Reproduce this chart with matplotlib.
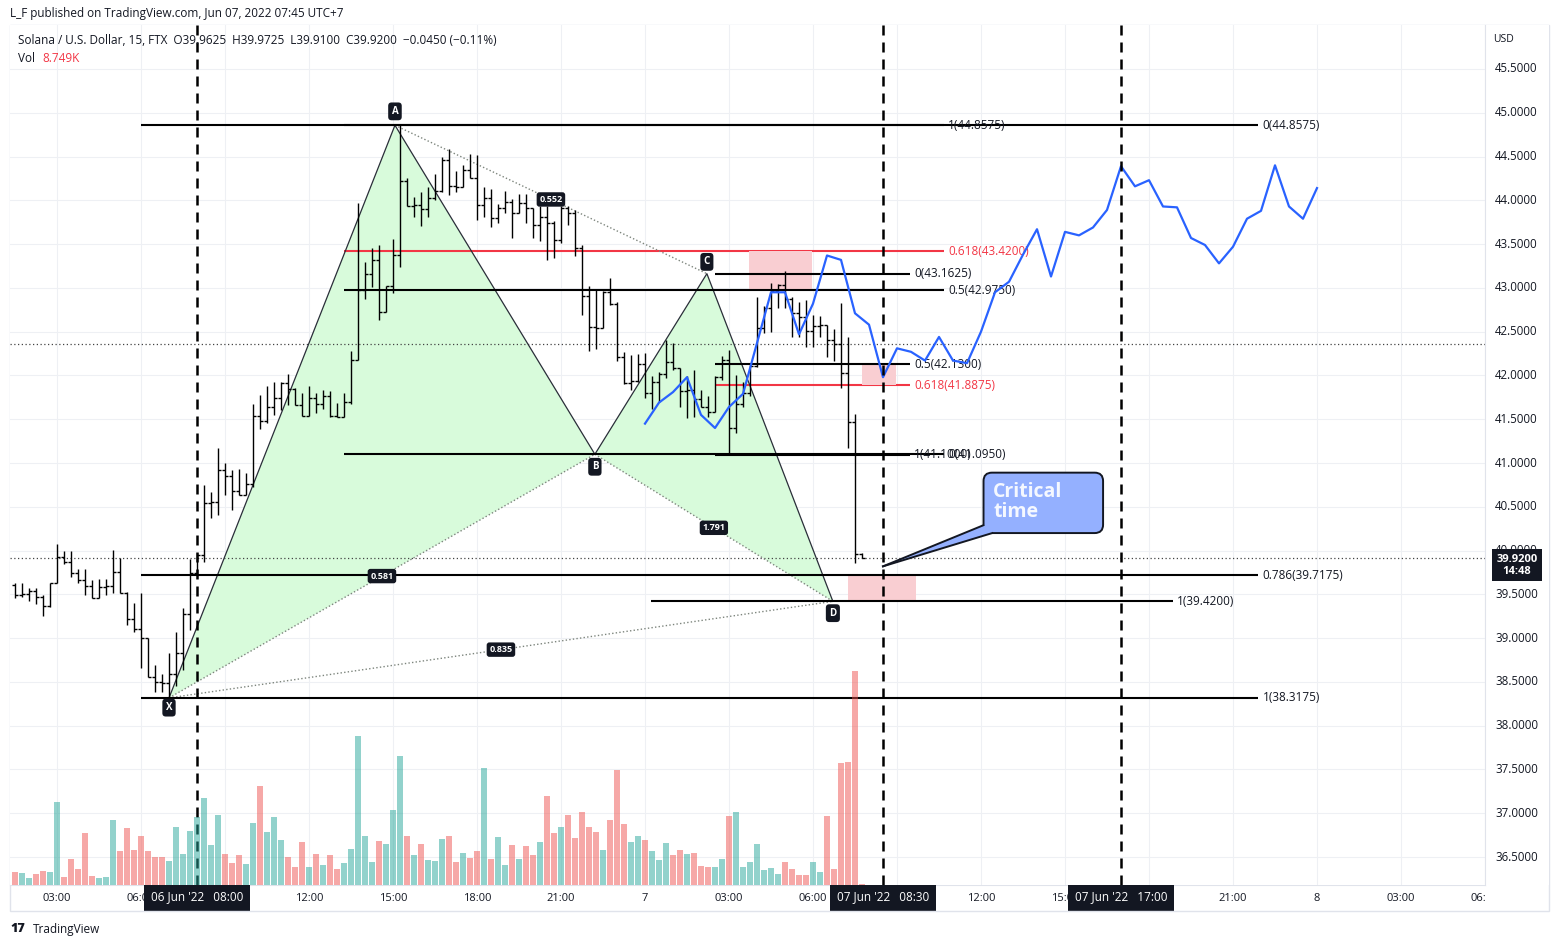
import numpy as np
import matplotlib.pyplot as plt
from matplotlib.patches import Polygon, Rectangle, FancyBboxPatch
from matplotlib.transforms import Bbox

plt.rcParams.update({'font.size': 8})
plt.rcParams['font.family'] = ['Open Sans', 'DejaVu Sans']

W, H = 1559, 947

# 15 minute OHLC bars, SOL/USD, first bar 06 Jun 01:30 (hours since 06 Jun 00:00)
first_bar = 1.5
opens = [
    39.61, 39.49, 39.50, 39.54, 39.47, 39.37, 39.63, 39.93, 39.87, 39.74,
    39.66, 39.60, 39.46, 39.58, 39.60, 39.75, 39.52, 39.22, 39.11, 39.00,
    38.56, 38.50, 38.49, 38.59, 38.83, 39.28, 39.74, 39.95, 40.54, 40.55,
    40.92, 40.85, 40.68, 40.63, 40.76, 41.54, 41.48, 41.64, 41.74, 41.91,
    41.85, 41.66, 41.54, 41.74, 41.67, 41.76, 41.54, 41.53, 41.70, 42.18,
    42.98, 43.16, 43.32, 42.72, 43.02, 43.38, 44.22, 43.94, 43.95, 43.90,
    44.03, 44.11, 44.46, 44.16, 44.15, 44.35, 44.26, 43.95, 44.03, 43.80,
    43.91, 43.98, 43.85, 43.97, 43.91, 43.72, 43.81, 43.74, 43.55, 43.91,
    43.85, 43.45, 42.91, 42.55, 42.54, 42.95, 42.82, 42.21, 41.91, 41.94,
    42.13, 41.80, 41.93, 42.02, 42.15, 42.09, 41.82, 41.83, 41.73, 41.64,
    41.58, 41.98, 42.18, 41.40, 41.67, 41.80, 42.11, 42.54, 42.77, 42.96,
    43.03, 42.87, 42.71, 42.67, 42.51, 42.56, 42.58, 42.41, 42.36, 42.03,
    41.47, 39.9625]
highs = [
    39.63, 39.63, 39.57, 39.57, 39.49, 39.63, 40.08, 40.00, 39.99, 39.79,
    39.79, 39.66, 39.68, 39.68, 40.01, 39.91, 39.53, 39.40, 39.51, 39.00,
    38.69, 38.59, 38.83, 39.07, 39.34, 39.90, 39.97, 40.75, 40.67, 41.17,
    41.00, 40.92, 40.93, 40.89, 41.67, 41.78, 41.88, 41.93, 41.93, 42.02,
    41.86, 41.80, 41.88, 41.80, 41.83, 41.82, 41.69, 41.80, 42.28, 43.97,
    43.30, 43.45, 43.49, 43.02, 43.56, 44.8575, 44.26, 44.04, 44.09, 44.15,
    44.30, 44.50, 44.59, 44.34, 44.40, 44.53, 44.52, 44.15, 44.13, 43.96,
    44.11, 44.01, 44.07, 44.07, 43.91, 43.93, 43.93, 43.76, 43.93, 43.93,
    43.89, 43.49, 43.02, 42.98, 42.96, 43.11, 42.84, 42.27, 42.23, 42.25,
    42.26, 41.99, 42.04, 42.41, 42.37, 42.09, 41.99, 42.06, 41.83, 41.76,
    41.99, 42.22, 42.29, 42.01, 41.92, 42.12, 42.90, 42.79, 43.06, 43.05,
    43.19, 42.90, 42.84, 42.86, 42.69, 42.68, 42.58, 42.53, 42.83, 42.44,
    41.56, 39.9725]
lows = [
    39.46, 39.47, 39.42, 39.39, 39.25, 39.35, 39.63, 39.85, 39.70, 39.63,
    39.49, 39.46, 39.46, 39.49, 39.51, 39.51, 39.15, 39.07, 38.66, 38.56,
    38.39, 38.38, 38.3175, 38.45, 38.64, 39.09, 39.72, 39.87, 40.37, 40.41,
    40.63, 40.46, 40.63, 40.63, 40.73, 41.39, 41.46, 41.55, 41.61, 41.66,
    41.66, 41.54, 41.54, 41.57, 41.62, 41.52, 41.52, 41.52, 41.67, 42.18,
    42.87, 43.01, 42.63, 42.72, 42.94, 43.24, 43.93, 43.81, 43.71, 43.81,
    44.00, 44.10, 44.06, 44.10, 44.15, 44.26, 43.78, 43.81, 43.69, 43.74,
    43.85, 43.57, 43.85, 43.74, 43.57, 43.53, 43.32, 43.34, 43.51, 43.72,
    43.36, 42.69, 42.28, 42.30, 42.54, 42.80, 42.17, 41.90, 41.83, 41.93,
    41.74, 41.62, 41.70, 41.97, 42.06, 41.64, 41.51, 41.53, 41.64, 41.53,
    41.58, 41.95, 41.095, 41.34, 41.64, 41.76, 42.10, 42.49, 42.50, 42.77,
    42.77, 42.44, 42.44, 42.33, 42.33, 42.44, 42.21, 42.17, 41.86, 41.17,
    39.86, 39.91]
closes = [
    39.49, 39.50, 39.54, 39.47, 39.37, 39.63, 39.93, 39.87, 39.74, 39.66,
    39.60, 39.46, 39.58, 39.60, 39.75, 39.52, 39.22, 39.11, 39.00, 38.56,
    38.50, 38.49, 38.59, 38.83, 39.28, 39.74, 39.95, 40.54, 40.55, 40.92,
    40.85, 40.68, 40.63, 40.76, 41.54, 41.48, 41.64, 41.74, 41.91, 41.85,
    41.66, 41.54, 41.74, 41.67, 41.76, 41.54, 41.53, 41.70, 42.18, 42.98,
    43.16, 43.32, 42.72, 43.02, 43.38, 44.22, 43.94, 43.95, 43.90, 44.03,
    44.11, 44.46, 44.16, 44.15, 44.35, 44.26, 43.95, 44.03, 43.80, 43.91,
    43.98, 43.85, 43.97, 43.91, 43.72, 43.81, 43.74, 43.55, 43.91, 43.85,
    43.45, 42.91, 42.55, 42.54, 42.95, 42.82, 42.21, 41.91, 41.94, 42.13,
    41.80, 41.93, 42.02, 42.15, 42.09, 41.82, 41.83, 41.73, 41.64, 41.58,
    41.98, 42.18, 41.40, 41.67, 41.80, 42.11, 42.54, 42.77, 42.96, 43.03,
    42.87, 42.71, 42.67, 42.51, 42.56, 42.58, 42.41, 42.36, 42.03, 41.47,
    39.9625, 39.92]
volume_k = [
    117, 108, 63, 99, 126, 117, 747, 72, 234, 144,
    468, 81, 63, 72, 585, 306, 513, 315, 441, 306,
    252, 252, 216, 522, 279, 486, 612, 783, 360, 630,
    279, 198, 270, 189, 558, 891, 477, 612, 405, 252,
    162, 387, 162, 279, 180, 270, 144, 198, 324, 1341,
    441, 207, 396, 369, 675, 1161, 441, 270, 369, 225,
    216, 414, 441, 207, 288, 243, 306, 1053, 234, 432,
    180, 360, 234, 351, 270, 387, 801, 468, 522, 630,
    423, 657, 522, 477, 315, 585, 1035, 549, 387, 441,
    405, 306, 225, 378, 270, 315, 279, 288, 171, 162,
    162, 234, 621, 657, 162, 207, 369, 135, 153, 99,
    207, 144, 90, 90, 207, 117, 621, 144, 1098, 1107,
    1926, 8.749]

# projected path (blue), every 30 min from 07 Jun 00:00
proj_start = 24.0
proj_price = [
    41.45, 41.69, 41.81, 41.98, 41.55, 41.40, 41.64, 41.79, 42.37, 42.95,
    42.95, 42.47, 42.82, 43.37, 43.32, 42.71, 42.58, 41.98, 42.31, 42.27,
    42.17, 42.44, 42.17, 42.14, 42.50, 42.95, 43.07, 43.38, 43.67, 43.13,
    43.64, 43.60, 43.69, 43.89, 44.39, 44.16, 44.23, 43.93, 43.92, 43.57,
    43.49, 43.28, 43.47, 43.79, 43.88, 44.40, 43.93, 43.79, 44.14]

# XABCD harmonic pattern
pat_names = ['X', 'A', 'B', 'C', 'D']
pat_t = [7.0, 15.07, 22.21, 26.21, 30.71]
pat_p = [38.3175, 44.8575, 41.10, 43.1625, 39.42]
pat_label_off = [-7, 10, -9, 8.5, -8.5]
ratio_pairs = [(0, 2), (1, 3), (2, 4), (0, 4)]
ratio_text = ['0.581', '0.552', '1.791', '0.835']

# fibonacci levels
fib_price = [44.8575, 39.7175, 38.3175, 44.8575, 43.42, 42.975, 41.10,
             43.1625, 42.13, 41.8875, 41.095, 39.42]
fib_start = [6.0, 6.0, 6.0, 13.25, 13.25, 13.25, 13.25, 26.5, 26.5, 26.5, 26.5, 24.21]
fib_end = [45.9, 45.9, 45.9, 34.68, 34.68, 34.68, 34.68, 33.46, 33.46, 33.46, 33.46, 42.86]
fib_text = ['0(44.8575)', '0.786(39.7175)', '1(38.3175)', '1(44.8575)', '0.618(43.4200)',
            '0.5(42.9750)', '0(41.0950)', '0(43.1625)', '0.5(42.1300)', '0.618(41.8875)',
            '1(41.1000)', '1(39.4200)']
fib_red = [False, False, False, False, True, False, False, False, False, True, False, False]

# pink zones
zone_t0 = [27.71, 31.75, 31.25]
zone_t1 = [29.96, 32.96, 33.68]
zone_lo = [42.975, 41.8875, 39.42]
zone_hi = [43.42, 42.13, 39.7175]

critical_times = [8.0, 32.5, 41.0]
critical_labels = ["06 Jun '22   08:00", "07 Jun '22   08:30", "07 Jun '22   17:00"]
session_price = 42.36

time_ticks = [3, 6, 9, 12, 15, 18, 21, 24, 27, 30, 33, 36, 39, 42, 45, 48, 51, 54]
time_labels = ['03:00', '06:00', '09:00', '12:00', '15:00', '18:00', '21:00', '7',
               '03:00', '06:00', '09:00', '12:00', '15:00', '18:00', '21:00', '8',
               '03:00', '06:00']
price_ticks = np.arange(36.5, 45.51, 0.5)

TXT = '#131722'
GRID = '#eef0f4'
BORDER = '#e0e3eb'
RED = '#f23645'


def fx(px):
    return px / W


def fy(py):
    return 1 - py / H


t = first_bar + 0.25 * np.arange(len(closes))
xlim = (1.3214, 54.0)
ylim = (36.1807, 46.0025)

fig = plt.figure(figsize=(W / 100, H / 100), dpi=100)
fig.patch.set_facecolor('white')

# main price axes
ax = fig.add_axes([fx(10), fy(885), 1475 / W, 860 / H])
ax.set_xlim(*xlim)
ax.set_ylim(*ylim)
ax.set_xticks(time_ticks)
ax.set_yticks(price_ticks)
ax.set_axisbelow(True)
ax.grid(True, color=GRID, lw=0.8)
ax.tick_params(length=0, labelbottom=False, labelleft=False)
for s in ax.spines.values():
    s.set_visible(False)
ax.set_zorder(1)

# volume on its own scale, same time axis
axv = fig.add_axes([fx(10), fy(885), 1475 / W, 860 / H])
axv.set_xlim(*xlim)
axv.set_ylim(0, 7740)
axv.axis('off')
axv.set_zorder(2)
vol_colors = ['#26a69a' if c >= o else '#ef5350' for o, c in zip(opens, closes)]
axv.bar(t, volume_k, width=0.21, color=vol_colors, alpha=0.5, linewidth=0)

# harmonic pattern
ax.add_patch(Polygon(list(zip(pat_t[:3], pat_p[:3])), fc='#d8fbdb', ec='none', zorder=1.5))
ax.add_patch(Polygon(list(zip(pat_t[2:], pat_p[2:])), fc='#d8fbdb', ec='none', zorder=1.5))
ax.plot(pat_t, pat_p, color='#2a2e39', lw=0.9, zorder=2.4)
for i, j in ratio_pairs:
    ax.plot([pat_t[i], pat_t[j]], [pat_p[i], pat_p[j]], color='#7d857d',
            lw=1.0, ls=(0, (1, 1.6)), zorder=2.3)
for (i, j), r in zip(ratio_pairs, ratio_text):
    ax.text((pat_t[i] + pat_t[j]) / 2, (pat_p[i] + pat_p[j]) / 2, r, ha='center', va='center',
            fontsize=6.5, fontweight='bold', color='white', zorder=7,
            bbox=dict(boxstyle='round,pad=0.3', fc=TXT, ec='none'))
for name, pt, pp, off in zip(pat_names, pat_t, pat_p, pat_label_off):
    ax.annotate(name, xy=(pt, pp), xytext=(0, off), textcoords='offset points',
                ha='center', va='center', fontsize=7, fontweight='bold', color='white', zorder=7,
                bbox=dict(boxstyle='round,pad=0.35', fc=TXT, ec='none'))

# fib levels and zones
for p, a, b, txt, red in zip(fib_price, fib_start, fib_end, fib_text, fib_red):
    ax.hlines(p, a, b, color=RED if red else 'black', lw=1.5, zorder=2.0 if red else 2.6)
    ax.text(b + 0.15, p, txt, ha='left', va='center', color=RED if red else TXT,
            fontsize=8.5, zorder=2.7)
for a, b, lo, hi in zip(zone_t0, zone_t1, zone_lo, zone_hi):
    ax.add_patch(Rectangle((a, lo), b - a, hi - lo, fc='#f9ced2', ec='none', zorder=2.2))

ax.axhline(closes[-1], color='#444444', lw=0.9, ls=(0, (1, 2)), zorder=1.8)
ax.axhline(session_price, color='#444444', lw=0.9, ls=(0, (1, 2)), zorder=1.8)

# OHLC bars
ax.vlines(t, lows, highs, color='black', lw=1.0, zorder=3)
ax.hlines(opens, t - 0.1, t, color='black', lw=1.0, zorder=3)
ax.hlines(closes, t, t + 0.1, color='black', lw=1.0, zorder=3)

# projected path
proj_t = proj_start + 0.5 * np.arange(len(proj_price))
ax.plot(proj_t, proj_price, color='#2962ff', lw=1.6, zorder=3.5)

for ct in critical_times:
    ax.axvline(ct, color='black', lw=1.8, ls=(0, (4.0, 2.8)), zorder=5)

# "Critical time" callout
tip = (32.5, 39.82)
ax.add_patch(FancyBboxPatch((36.09, 40.20), 4.27, 0.69,
                            boxstyle='round,pad=0,rounding_size=0.3', mutation_aspect=0.32,
                            fc='#94b0ff', ec=TXT, lw=1.4, zorder=6))
ax.add_patch(Polygon([tip, (36.09, 40.29), (36.45, 40.35), (36.40, 40.20)],
                     fc='#94b0ff', ec='none', zorder=6.1))
ax.plot([tip[0], 36.09], [tip[1], 40.29], color=TXT, lw=1.4, zorder=6.2)
ax.plot([tip[0], 36.40], [tip[1], 40.20], color=TXT, lw=1.4, zorder=6.2)
ax.text(36.43, 40.78, 'Critical\ntime', ha='left', va='top', fontsize=14, fontweight='bold',
        color='#f5f8ff', linespacing=1.0, zorder=7)

# price scale
axp = fig.add_axes([fx(1485), fy(885), 64 / W, 860 / H])
axp.set_ylim(*ylim)
axp.set_xlim(0, 1)
axp.set_xticks([])
axp.set_yticks([])
for s in ['top', 'right', 'bottom']:
    axp.spines[s].set_visible(False)
axp.spines['left'].set_color(BORDER)
axp.set_zorder(4)
for p in price_ticks:
    axp.text(0.16, p, f'{p:.4f}', ha='left', va='center', color=TXT, fontsize=8.3)
axp.text(0.12, 0.983, 'USD', transform=axp.transAxes, ha='left', va='center', color=TXT, fontsize=7.5)
axp.annotate(f'{closes[-1]:.4f}\n14:48', xy=(0.5, closes[-1]), xycoords=('axes fraction', 'data'),
             xytext=(0, -5.5), textcoords='offset points', ha='center', va='center',
             color='white', fontsize=8, fontweight='bold', linespacing=1.15,
             bbox=dict(boxstyle='square,pad=0.4', fc=TXT, ec='none'))

# time scale
axt = fig.add_axes([fx(10), fy(911), 1475 / W, 26 / H])
axt.set_xlim(*xlim)
axt.set_ylim(0, 1)
axt.set_xticks([])
axt.set_yticks([])
for s in ['left', 'right', 'bottom']:
    axt.spines[s].set_visible(False)
axt.spines['top'].set_color(BORDER)
tick_texts = [axt.text(h, 0.5, lab, ha='center', va='center', color=TXT, fontsize=8, clip_on=True)
              for h, lab in zip(time_ticks, time_labels)]
box_texts = [axt.text(ct, 0.54, lab, ha='center', va='center', color='white', fontsize=8.5, zorder=5,
                      bbox=dict(boxstyle='square,pad=0.6', fc=TXT, ec='none'))
             for ct, lab in zip(critical_times, critical_labels)]

fig.add_artist(Rectangle((fx(10), fy(911)), 1539 / W, 886 / H, transform=fig.transFigure,
                         fill=False, ec=BORDER, lw=1))

# header
fig.text(fx(10), fy(14), 'L_F published on TradingView.com, Jun 07, 2022 07:45 UTC+7',
         va='center', ha='left', color=TXT, fontsize=8.5)
fig.text(fx(18), fy(41), 'Solana / U.S. Dollar, 15, FTX  O39.9625  H39.9725  L39.9100  '
         'C39.9200  \u22120.0450 (\u22120.11%)', va='center', ha='left', color=TXT, fontsize=8.5)
fig.text(fx(18), fy(58), 'Vol', va='center', ha='left', color=TXT, fontsize=8.5)
fig.text(fx(42), fy(58), f'{volume_k[-1]:.3f}K', va='center', ha='left', color=RED, fontsize=8.5)

fig.text(fx(10), fy(929), '17', va='center', ha='left', color=TXT, fontsize=9, fontweight='heavy')
fig.text(fx(33), fy(929), 'TradingView', va='center', ha='left', color=TXT, fontsize=8.5)

# time labels hidden behind the date boxes: hide or cut them at the box edge
fig.canvas.draw()
strip = axt.get_window_extent()
for tt in tick_texts:
    tb = tt.get_window_extent()
    for bt in box_texts:
        bb = bt.get_bbox_patch().get_window_extent()
        if tb.x1 > bb.x0 and tb.x0 < bb.x1:
            if tb.x0 >= bb.x0 - 2 and tb.x1 <= bb.x1 + 2:
                tt.set_visible(False)
            elif tb.x0 < bb.x0:
                tt.set_clip_box(Bbox([[strip.x0, strip.y0 - 20], [bb.x0, strip.y1 + 20]]))

fig.savefig('out.png', dpi=100, facecolor='white')
plt.close()
